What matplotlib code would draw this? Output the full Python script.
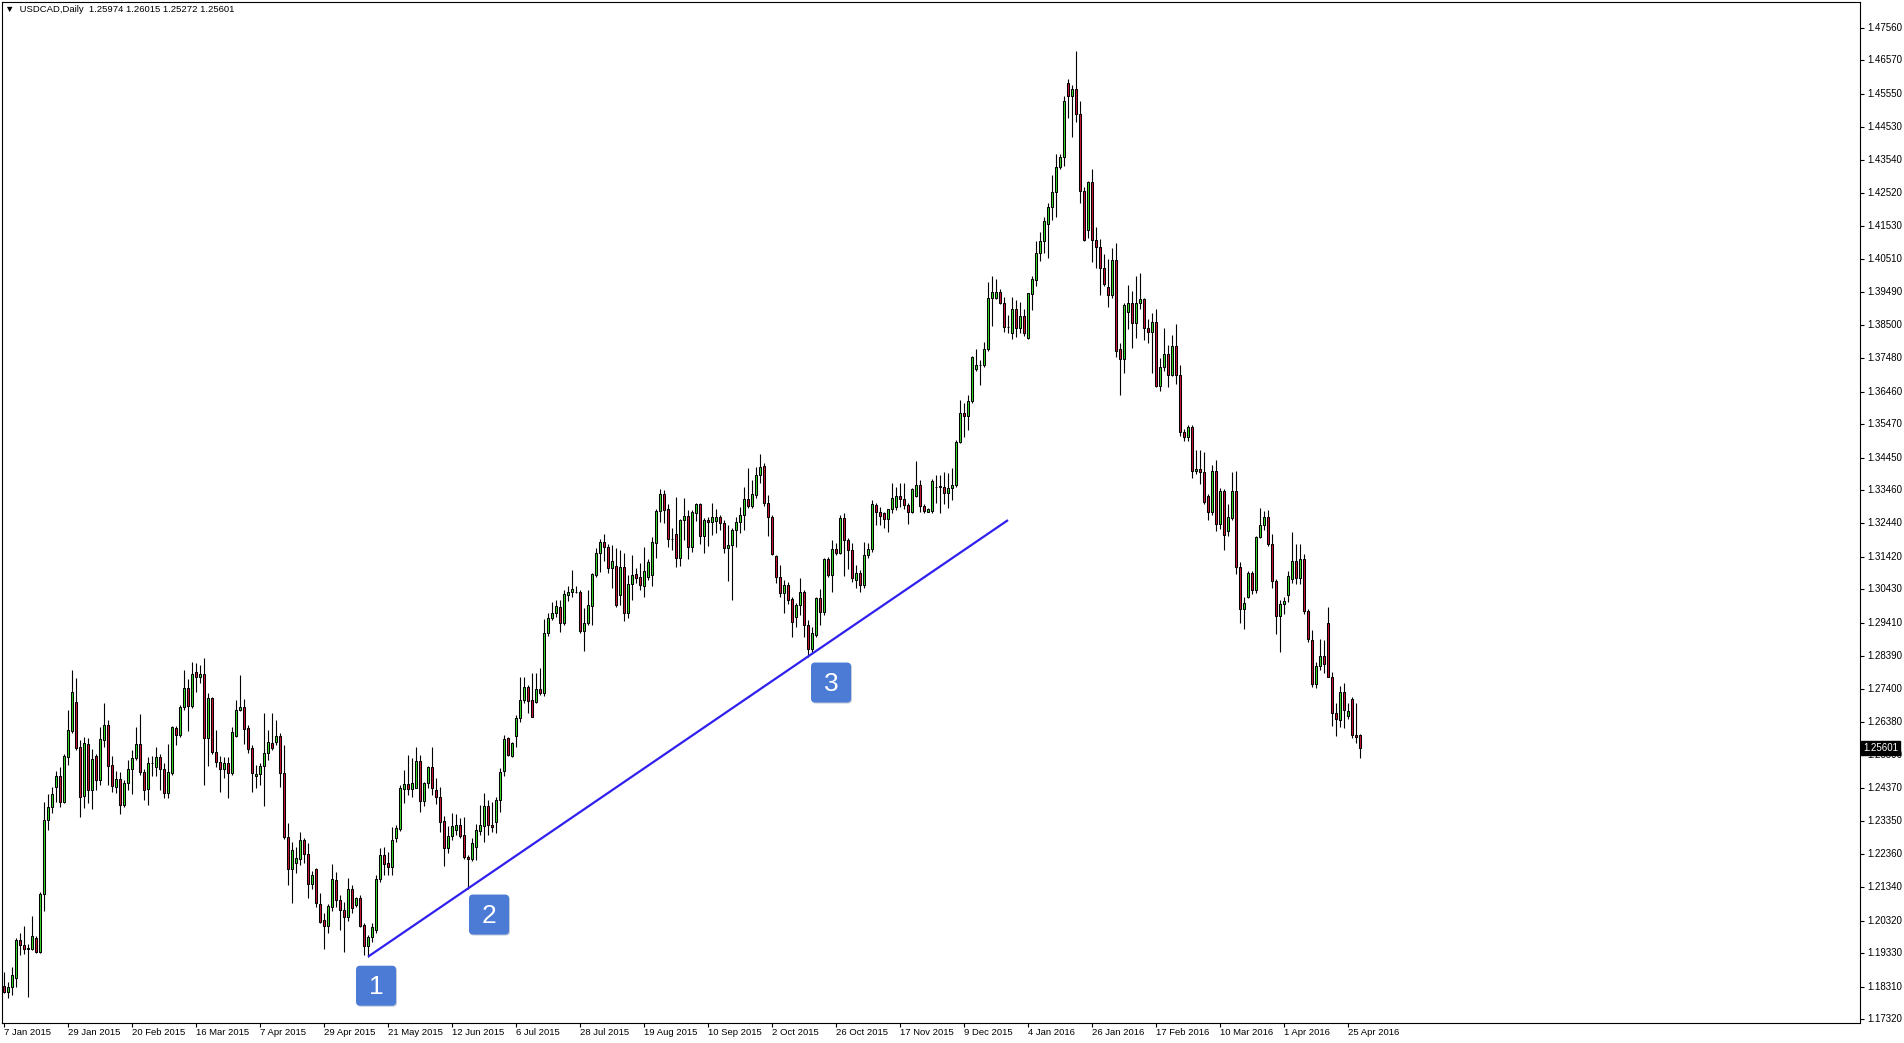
import matplotlib
matplotlib.use('Agg')
import matplotlib.pyplot as plt
import matplotlib.transforms as mtransforms
from matplotlib.patches import FancyBboxPatch
import numpy as np

plt.rcParams['font.family'] = ['Liberation Sans', 'DejaVu Sans']

symbol = 'USDCAD,Daily'

# daily candles (bar 0 = 7 Jan 2015)
opens = [
    1.1834, 1.1813, 1.1829, 1.1858, 1.1973, 1.1958, 1.1950, 1.1947, 1.1979, 1.1937,
    1.2112, 1.2338, 1.2378, 1.2441, 1.2473, 1.2395, 1.2532, 1.2610, 1.2699, 1.2563,
    1.2413, 1.2570, 1.2431, 1.2534, 1.2461, 1.2583, 1.2629, 1.2507, 1.2441, 1.2464,
    1.2385, 1.2451, 1.2494, 1.2527, 1.2570, 1.2485, 1.2433, 1.2512, 1.2500, 1.2532,
    1.2494, 1.2423, 1.2482, 1.2620, 1.2600, 1.2683, 1.2741, 1.2688, 1.2790, 1.2774,
    1.2785, 1.2588, 1.2710, 1.2548, 1.2515, 1.2494, 1.2512, 1.2482, 1.2596, 1.2675,
    1.2683, 1.2620, 1.2558, 1.2472, 1.2480, 1.2504, 1.2543, 1.2573, 1.2578, 1.2595,
    1.2482, 1.2288, 1.2190, 1.2207, 1.2219, 1.2278, 1.2235, 1.2144, 1.2190, 1.2083,
    1.2034, 1.2017, 1.2075, 1.2156, 1.2095, 1.2066, 1.2044, 1.2128, 1.2080, 1.2100,
    1.2019, 1.1955, 1.1981, 1.2003, 1.2158, 1.2232, 1.2207, 1.2195, 1.2283, 1.2311,
    1.2433, 1.2448, 1.2433, 1.2438, 1.2519, 1.2398, 1.2451, 1.2502, 1.2431, 1.2410,
    1.2337, 1.2253, 1.2290, 1.2309, 1.2324, 1.2293, 1.2227, 1.2219, 1.2256, 1.2307,
    1.2321, 1.2382, 1.2324, 1.2334, 1.2400, 1.2489, 1.2588, 1.2534, 1.2596, 1.2649,
    1.2705, 1.2744, 1.2705, 1.2700, 1.2738, 1.2726, 1.2909, 1.2955, 1.2972, 1.2990,
    1.2941, 1.3026, 1.3034, 1.3034, 1.3034, 1.2917, 1.2941, 1.2992, 1.3087, 1.3153,
    1.3188, 1.3173, 1.3107, 1.3114, 1.3026, 1.3112, 1.2972, 1.3059, 1.3090, 1.3080,
    1.3054, 1.3082, 1.3087, 1.3183, 1.3283, 1.3334, 1.3287, 1.3196, 1.3212, 1.3138,
    1.3254, 1.3267, 1.3173, 1.3275, 1.3303, 1.3206, 1.3255, 1.3247, 1.3252, 1.3265,
    1.3244, 1.3168, 1.3178, 1.3224, 1.3249, 1.3270, 1.3318, 1.3297, 1.3331, 1.3392,
    1.3419, 1.3305, 1.3265, 1.3145, 1.3080, 1.3031, 1.3056, 1.3015, 1.2960, 1.2996,
    1.3036, 1.2934, 1.2860, 1.2904, 1.3016, 1.2975, 1.3135, 1.3087, 1.3165, 1.3155,
    1.3260, 1.3193, 1.3163, 1.3071, 1.3094, 1.3056, 1.3148, 1.3165, 1.3300, 1.3280,
    1.3275, 1.3257, 1.3287, 1.3295, 1.3328, 1.3318, 1.3300, 1.3280, 1.3328, 1.3361,
    1.3297, 1.3280, 1.3283, 1.3356, 1.3356, 1.3354, 1.3338, 1.3351, 1.3361, 1.3494,
    1.3580, 1.3573, 1.3619, 1.3714, 1.3728, 1.3728, 1.3775, 1.3931, 1.3931, 1.3951,
    1.3916, 1.3843, 1.3824, 1.3897, 1.3840, 1.3877, 1.3809, 1.3945, 1.3987, 1.4070,
    1.4106, 1.4159, 1.4211, 1.4254, 1.4332, 1.4361, 1.4588, 1.4548, 1.4571, 1.4494,
    1.4260, 1.4139, 1.4286, 1.4110, 1.4087, 1.4024, 1.3966, 1.3940, 1.4048, 1.3775,
    1.3746, 1.3890, 1.3918, 1.3857, 1.3918, 1.3929, 1.3842, 1.3828, 1.3860, 1.3664,
    1.3721, 1.3760, 1.3698, 1.3785, 1.3698, 1.3523, 1.3508, 1.3537, 1.3405, 1.3411,
    1.3401, 1.3328, 1.3278, 1.3405, 1.3242, 1.3343, 1.3220, 1.3261, 1.3343, 1.3112,
    1.2983, 1.3019, 1.3094, 1.3040, 1.3203, 1.3238, 1.3264, 1.3180, 1.3069, 1.2961,
    1.2997, 1.3026, 1.3076, 1.3131, 1.3079, 1.3137, 1.2976, 1.2889, 1.2753, 1.2810,
    1.2839, 1.2940, 1.2775, 1.2666, 1.2644, 1.2731, 1.2656, 1.2709, 1.2599, 1.25974,
]
highs = [
    1.1874, 1.1846, 1.1891, 1.1978, 1.1993, 1.2016, 1.1962, 1.2046, 1.1985, 1.2120,
    1.2395, 1.2418, 1.2441, 1.2490, 1.2502, 1.2542, 1.2675, 1.2797, 1.2772, 1.2583,
    1.2591, 1.2588, 1.2556, 1.2542, 1.2622, 1.2697, 1.2644, 1.2534, 1.2490, 1.2487,
    1.2461, 1.2522, 1.2553, 1.2622, 1.2663, 1.2495, 1.2532, 1.2534, 1.2563, 1.2542,
    1.2512, 1.2571, 1.2626, 1.2626, 1.2690, 1.2797, 1.2768, 1.2820, 1.2817, 1.2812,
    1.2832, 1.2726, 1.2715, 1.2614, 1.2534, 1.2532, 1.2532, 1.2624, 1.2705, 1.2782,
    1.2707, 1.2629, 1.2568, 1.2507, 1.2512, 1.2667, 1.2614, 1.2665, 1.2644, 1.2604,
    1.2568, 1.2329, 1.2273, 1.2258, 1.2303, 1.2283, 1.2268, 1.2184, 1.2192, 1.2115,
    1.2054, 1.2083, 1.2205, 1.2181, 1.2110, 1.2090, 1.2161, 1.2141, 1.2105, 1.2110,
    1.2024, 1.1988, 1.2024, 1.2171, 1.2253, 1.2258, 1.2243, 1.2319, 1.2324, 1.2446,
    1.2492, 1.2537, 1.2527, 1.2563, 1.2537, 1.2456, 1.2504, 1.2563, 1.2468, 1.2439,
    1.2351, 1.2321, 1.2359, 1.2356, 1.2344, 1.2349, 1.2232, 1.2283, 1.2327, 1.2385,
    1.2421, 1.2400, 1.2395, 1.2410, 1.2497, 1.2598, 1.2593, 1.2578, 1.2660, 1.2776,
    1.2774, 1.2751, 1.2787, 1.2787, 1.2802, 1.2954, 1.2970, 1.3005, 1.3012, 1.3010,
    1.3041, 1.3053, 1.3102, 1.3053, 1.3041, 1.2985, 1.3041, 1.3092, 1.3168, 1.3198,
    1.3211, 1.3181, 1.3178, 1.3168, 1.3163, 1.3153, 1.3087, 1.3148, 1.3107, 1.3122,
    1.3173, 1.3135, 1.3204, 1.3287, 1.3348, 1.3346, 1.3303, 1.3229, 1.3324, 1.3257,
    1.3321, 1.3285, 1.3285, 1.3307, 1.3307, 1.3260, 1.3265, 1.3307, 1.3287, 1.3270,
    1.3255, 1.3239, 1.3229, 1.3265, 1.3295, 1.3354, 1.3412, 1.3377, 1.3417, 1.3456,
    1.3430, 1.3331, 1.3270, 1.3148, 1.3117, 1.3071, 1.3066, 1.3021, 1.3000, 1.3077,
    1.3041, 1.2950, 1.2929, 1.3021, 1.3043, 1.3138, 1.3141, 1.3193, 1.3183, 1.3270,
    1.3275, 1.3200, 1.3183, 1.3117, 1.3102, 1.3188, 1.3183, 1.3316, 1.3305, 1.3295,
    1.3280, 1.3287, 1.3366, 1.3354, 1.3366, 1.3366, 1.3305, 1.3351, 1.3436, 1.3377,
    1.3303, 1.3290, 1.3379, 1.3392, 1.3392, 1.3402, 1.3399, 1.3412, 1.3499, 1.3621,
    1.3611, 1.3636, 1.3755, 1.3775, 1.3743, 1.3799, 1.3982, 1.3999, 1.3989, 1.3958,
    1.3936, 1.3880, 1.3936, 1.3926, 1.3921, 1.3900, 1.3948, 1.3998, 1.4106, 1.4134,
    1.4178, 1.4221, 1.4307, 1.4372, 1.4372, 1.4548, 1.4600, 1.4581, 1.4686, 1.4533,
    1.4271, 1.4289, 1.4326, 1.4149, 1.4113, 1.4067, 1.4052, 1.4084, 1.4099, 1.3796,
    1.3918, 1.3972, 1.3954, 1.3998, 1.4009, 1.3933, 1.3868, 1.3886, 1.3897, 1.3750,
    1.3842, 1.3789, 1.3818, 1.3854, 1.3727, 1.3532, 1.3544, 1.3544, 1.3468, 1.3468,
    1.3462, 1.3333, 1.3422, 1.3439, 1.3353, 1.3350, 1.3304, 1.3400, 1.3405, 1.3127,
    1.3019, 1.3098, 1.3098, 1.3206, 1.3292, 1.3281, 1.3285, 1.3213, 1.3076, 1.3011,
    1.3019, 1.3098, 1.3217, 1.3180, 1.3180, 1.3151, 1.2983, 1.2918, 1.2820, 1.2892,
    1.2889, 1.2990, 1.2791, 1.2695, 1.2748, 1.2757, 1.2695, 1.2716, 1.2695, 1.26015,
]
lows = [
    1.1810, 1.1795, 1.1805, 1.1830, 1.1927, 1.1929, 1.1800, 1.1943, 1.1932, 1.1932,
    1.2060, 1.2309, 1.2360, 1.2395, 1.2378, 1.2390, 1.2507, 1.2604, 1.2553, 1.2349,
    1.2375, 1.2390, 1.2373, 1.2431, 1.2446, 1.2563, 1.2446, 1.2426, 1.2421, 1.2357,
    1.2378, 1.2431, 1.2419, 1.2522, 1.2477, 1.2400, 1.2385, 1.2473, 1.2473, 1.2431,
    1.2405, 1.2405, 1.2477, 1.2568, 1.2593, 1.2675, 1.2612, 1.2680, 1.2731, 1.2756,
    1.2446, 1.2505, 1.2541, 1.2502, 1.2426, 1.2467, 1.2407, 1.2477, 1.2592, 1.2673,
    1.2571, 1.2543, 1.2426, 1.2436, 1.2446, 1.2383, 1.2522, 1.2553, 1.2568, 1.2441,
    1.2280, 1.2141, 1.2085, 1.2176, 1.2202, 1.2207, 1.2100, 1.2128, 1.2075, 1.2024,
    1.1944, 1.1995, 1.2060, 1.2075, 1.2003, 1.1937, 1.2030, 1.2054, 1.2075, 1.2014,
    1.1927, 1.1922, 1.1968, 1.1995, 1.2150, 1.2171, 1.2171, 1.2171, 1.2273, 1.2307,
    1.2392, 1.2415, 1.2408, 1.2436, 1.2365, 1.2382, 1.2436, 1.2415, 1.2388, 1.2303,
    1.2199, 1.2237, 1.2278, 1.2293, 1.2283, 1.2219, 1.2130, 1.2215, 1.2217, 1.2293,
    1.2273, 1.2293, 1.2304, 1.2299, 1.2365, 1.2474, 1.2534, 1.2532, 1.2563, 1.2639,
    1.2695, 1.2665, 1.2652, 1.2695, 1.2720, 1.2718, 1.2901, 1.2950, 1.2960, 1.2914,
    1.2934, 1.3008, 1.3021, 1.3031, 1.2911, 1.2856, 1.2934, 1.2934, 1.3082, 1.3097,
    1.3131, 1.3092, 1.3046, 1.2988, 1.2995, 1.2947, 1.2955, 1.3012, 1.3061, 1.3041,
    1.3021, 1.3070, 1.3053, 1.3138, 1.3249, 1.3246, 1.3173, 1.3163, 1.3112, 1.3114,
    1.3194, 1.3135, 1.3158, 1.3252, 1.3181, 1.3153, 1.3175, 1.3209, 1.3216, 1.3224,
    1.3153, 1.3069, 1.3010, 1.3173, 1.3214, 1.3224, 1.3290, 1.3290, 1.3321, 1.3366,
    1.3297, 1.3206, 1.3148, 1.3061, 1.3021, 1.2970, 1.2998, 1.2898, 1.2929, 1.2965,
    1.2898, 1.2838, 1.2853, 1.2898, 1.2934, 1.2965, 1.3082, 1.3036, 1.3148, 1.3151,
    1.3084, 1.3104, 1.3066, 1.3046, 1.3036, 1.3046, 1.3138, 1.3158, 1.3239, 1.3239,
    1.3229, 1.3219, 1.3275, 1.3285, 1.3293, 1.3287, 1.3242, 1.3275, 1.3326, 1.3280,
    1.3275, 1.3278, 1.3275, 1.3305, 1.3275, 1.3303, 1.3290, 1.3316, 1.3354, 1.3490,
    1.3509, 1.3529, 1.3613, 1.3710, 1.3667, 1.3723, 1.3771, 1.3846, 1.3928, 1.3914,
    1.3829, 1.3824, 1.3806, 1.3812, 1.3826, 1.3816, 1.3806, 1.3894, 1.3969, 1.4044,
    1.4070, 1.4055, 1.4171, 1.4178, 1.4326, 1.4336, 1.4480, 1.4422, 1.4470, 1.4221,
    1.4106, 1.4116, 1.4041, 1.4024, 1.3940, 1.3970, 1.3904, 1.3933, 1.3753, 1.3635,
    1.3703, 1.3836, 1.3779, 1.3811, 1.3897, 1.3803, 1.3796, 1.3703, 1.3659, 1.3649,
    1.3710, 1.3659, 1.3693, 1.3670, 1.3511, 1.3497, 1.3497, 1.3382, 1.3396, 1.3364,
    1.3304, 1.3256, 1.3271, 1.3220, 1.3228, 1.3163, 1.3206, 1.3256, 1.3091, 1.2940,
    1.2921, 1.3016, 1.3030, 1.3033, 1.3199, 1.3223, 1.3174, 1.3048, 1.2907, 1.2853,
    1.2968, 1.3004, 1.3062, 1.3059, 1.3059, 1.2968, 1.2882, 1.2745, 1.2743, 1.2796,
    1.2789, 1.2774, 1.2627, 1.2594, 1.2623, 1.2619, 1.2647, 1.2590, 1.2573, 1.25272,
]
closes = [
    1.1813, 1.1829, 1.1866, 1.1973, 1.1957, 1.1947, 1.1947, 1.1985, 1.1937, 1.2112,
    1.2339, 1.2379, 1.2417, 1.2473, 1.2395, 1.2534, 1.2614, 1.2729, 1.2558, 1.2410,
    1.2573, 1.2431, 1.2525, 1.2461, 1.2585, 1.2629, 1.2505, 1.2443, 1.2464, 1.2385,
    1.2451, 1.2495, 1.2527, 1.2570, 1.2485, 1.2431, 1.2512, 1.2512, 1.2532, 1.2494,
    1.2423, 1.2485, 1.2622, 1.2600, 1.2685, 1.2741, 1.2688, 1.2785, 1.2774, 1.2785,
    1.2588, 1.2710, 1.2548, 1.2515, 1.2494, 1.2512, 1.2482, 1.2608, 1.2675, 1.2683,
    1.2617, 1.2556, 1.2482, 1.2480, 1.2504, 1.2543, 1.2576, 1.2558, 1.2595, 1.2482,
    1.2286, 1.2190, 1.2247, 1.2222, 1.2278, 1.2235, 1.2144, 1.2171, 1.2085, 1.2029,
    1.2017, 1.2077, 1.2158, 1.2095, 1.2066, 1.2044, 1.2128, 1.2070, 1.2100, 1.2016,
    1.1955, 1.1981, 1.2012, 1.2158, 1.2232, 1.2205, 1.2197, 1.2278, 1.2314, 1.2436,
    1.2448, 1.2433, 1.2453, 1.2519, 1.2398, 1.2451, 1.2502, 1.2436, 1.2408, 1.2334,
    1.2253, 1.2290, 1.2321, 1.2324, 1.2290, 1.2225, 1.2219, 1.2268, 1.2309, 1.2324,
    1.2382, 1.2324, 1.2319, 1.2400, 1.2487, 1.2585, 1.2537, 1.2573, 1.2649, 1.2705,
    1.2744, 1.2703, 1.2654, 1.2738, 1.2726, 1.2909, 1.2955, 1.2970, 1.2992, 1.2941,
    1.3029, 1.3035, 1.3043, 1.3034, 1.2917, 1.2941, 1.2995, 1.3090, 1.3153, 1.3188,
    1.3173, 1.3107, 1.3130, 1.2995, 1.3112, 1.2972, 1.3059, 1.3087, 1.3077, 1.3056,
    1.3100, 1.3126, 1.3188, 1.3283, 1.3334, 1.3285, 1.3196, 1.3196, 1.3138, 1.3255,
    1.3267, 1.3173, 1.3280, 1.3303, 1.3206, 1.3255, 1.3247, 1.3265, 1.3265, 1.3244,
    1.3168, 1.3178, 1.3224, 1.3249, 1.3270, 1.3318, 1.3297, 1.3334, 1.3392, 1.3417,
    1.3305, 1.3265, 1.3151, 1.3080, 1.3031, 1.3056, 1.3012, 1.2944, 1.2996, 1.3036,
    1.2934, 1.2860, 1.2909, 1.3016, 1.2975, 1.3135, 1.3087, 1.3165, 1.3155, 1.3260,
    1.3193, 1.3163, 1.3077, 1.3092, 1.3056, 1.3148, 1.3165, 1.3303, 1.3280, 1.3267,
    1.3257, 1.3287, 1.3321, 1.3328, 1.3318, 1.3300, 1.3280, 1.3348, 1.3361, 1.3297,
    1.3283, 1.3287, 1.3374, 1.3356, 1.3359, 1.3338, 1.3351, 1.3361, 1.3494, 1.3580,
    1.3573, 1.3619, 1.3751, 1.3728, 1.3728, 1.3775, 1.3931, 1.3951, 1.3951, 1.3916,
    1.3843, 1.3843, 1.3900, 1.3840, 1.3877, 1.3824, 1.3946, 1.3991, 1.4070, 1.4106,
    1.4168, 1.4211, 1.4254, 1.4332, 1.4361, 1.4533, 1.4548, 1.4571, 1.4494, 1.4260,
    1.4110, 1.4286, 1.4110, 1.4087, 1.4024, 1.3976, 1.3940, 1.4048, 1.3770, 1.3746,
    1.3911, 1.3918, 1.3857, 1.3918, 1.3929, 1.3842, 1.3828, 1.3860, 1.3664, 1.3721,
    1.3760, 1.3698, 1.3785, 1.3698, 1.3523, 1.3508, 1.3537, 1.3405, 1.3411, 1.3401,
    1.3310, 1.3278, 1.3405, 1.3242, 1.3343, 1.3209, 1.3264, 1.3343, 1.3112, 1.2983,
    1.3000, 1.3094, 1.3040, 1.3203, 1.3238, 1.3264, 1.3180, 1.3069, 1.2961, 1.2997,
    1.3007, 1.3084, 1.3131, 1.3079, 1.3137, 1.2976, 1.2892, 1.2753, 1.2810, 1.2839,
    1.2814, 1.2777, 1.2666, 1.2647, 1.2731, 1.2676, 1.2673, 1.2599, 1.2593, 1.25601,
]

price_ticks = [1.47560, 1.46570, 1.45550, 1.44530, 1.43540, 1.42520, 1.41530, 1.40510,
               1.39490, 1.38500, 1.37480, 1.36460, 1.35470, 1.34450, 1.33460, 1.32440,
               1.31420, 1.30430, 1.29410, 1.28390, 1.27400, 1.26380, 1.25390, 1.24370,
               1.23350, 1.22360, 1.21340, 1.20320, 1.19330, 1.18310, 1.17320]

date_ticks = list(range(0, 337, 16))
date_labels = ['7 Jan 2015', '29 Jan 2015', '20 Feb 2015', '16 Mar 2015', '7 Apr 2015',
               '29 Apr 2015', '21 May 2015', '12 Jun 2015', '6 Jul 2015', '28 Jul 2015',
               '19 Aug 2015', '10 Sep 2015', '2 Oct 2015', '26 Oct 2015', '17 Nov 2015',
               '9 Dec 2015', '4 Jan 2016', '26 Jan 2016', '17 Feb 2016', '10 Mar 2016',
               '1 Apr 2016', '25 Apr 2016']

# trendline through the lows of two bars, drawn on to a later bar
trend_bars = (91, 201)
trend_end = 251
# numbered touches of the trendline: label, bar whose low is touched
touch_labels = ['1', '2', '3']
touch_bars = [91, 116, 201]

W, H = 1904, 1043
fig = plt.figure(figsize=(W / 100, H / 100), dpi=100)
fig.patch.set_facecolor('white')
ax = fig.add_axes([2 / W, (H - 1023) / H, 1858 / W, 1021 / H])

o = np.array(opens)
h = np.array(highs)
l = np.array(lows)
c = np.array(closes)
x = np.arange(len(c))
up = c >= o

bull = '#36dc28'
bear = '#cc1430'

ax.vlines(x, l, h, color='black', linewidth=0.8, zorder=2)
ax.bar(x[up], c[up] - o[up], bottom=o[up], width=0.55, color=bull,
       edgecolor='black', linewidth=0.75, zorder=3)
ax.bar(x[~up], o[~up] - c[~up], bottom=c[~up], width=0.55, color=bear,
       edgecolor='black', linewidth=0.75, zorder=3)

# trendline
i1, i2 = trend_bars
slope = (lows[i2] - lows[i1]) / (i2 - i1)
tx = np.array([i1, trend_end])
ax.plot(tx, lows[i1] + slope * (tx - i1), color='#3020ee', linewidth=1.6,
        solid_capstyle='butt', zorder=4)

# numbered boxes below the touches
box_offsets = [(8, 29), (21, 26), (23, 26)]
for lab, b, (dx, dy) in zip(touch_labels, touch_bars, box_offsets):
    base = mtransforms.ScaledTranslation(b, lows[b], ax.transData)
    shadow = FancyBboxPatch((-19, -21), 40, 40, boxstyle='round,pad=0,rounding_size=4',
                            transform=mtransforms.Affine2D().translate(dx, -dy) + base,
                            fc='#c3cada', ec='none', zorder=5, clip_on=False)
    box = FancyBboxPatch((-20, -20), 40, 40, boxstyle='round,pad=0,rounding_size=4',
                         transform=mtransforms.Affine2D().translate(dx, -dy) + base,
                         fc='#4b7bd5', ec='none', zorder=6, clip_on=False)
    ax.add_artist(shadow)
    ax.add_artist(box)
    ax.annotate(lab, xy=(b, lows[b]), xytext=(dx, -dy - 1), textcoords='offset pixels',
                ha='center', va='center', color='white', fontsize=19, zorder=7,
                annotation_clip=False)

ax.set_xlim(-0.5, 464)
ax.set_ylim(1.17197, 1.48353)

ax.yaxis.tick_right()
ax.set_yticks(price_ticks)
ax.set_yticklabels(['{:.5f}'.format(p) for p in price_ticks])
ax.tick_params(axis='y', direction='out', length=3, width=0.8, pad=2, labelsize=7)
for lbl in ax.get_yticklabels():
    lbl.set_verticalalignment('center')

ax.set_xticks(date_ticks)
ax.set_xticklabels(date_labels, ha='left')
ax.tick_params(axis='x', direction='out', length=3, width=0.8, pad=0.5, labelsize=6.8)

for sp in ax.spines.values():
    sp.set_linewidth(0.8)
    sp.set_color('black')

# current price tag
ax.annotate('{:.5f}'.format(closes[-1]), xy=(1, closes[-1]), xycoords=('axes fraction', 'data'),
            xytext=(3, 0), textcoords='offset pixels', ha='left', va='center',
            color='white', fontsize=7, zorder=10, annotation_clip=False,
            bbox=dict(boxstyle='square,pad=0.2', fc='black', ec='black'))

# header
fig.text(5 / W, 1 - 9 / H,
         '\u25bc  {}  {:.5f} {:.5f} {:.5f} {:.5f}'.format(symbol, opens[-1], highs[-1], lows[-1], closes[-1]),
         ha='left', va='center', fontsize=6.8, color='black')

fig.savefig('out.png', dpi=100, facecolor='white')
